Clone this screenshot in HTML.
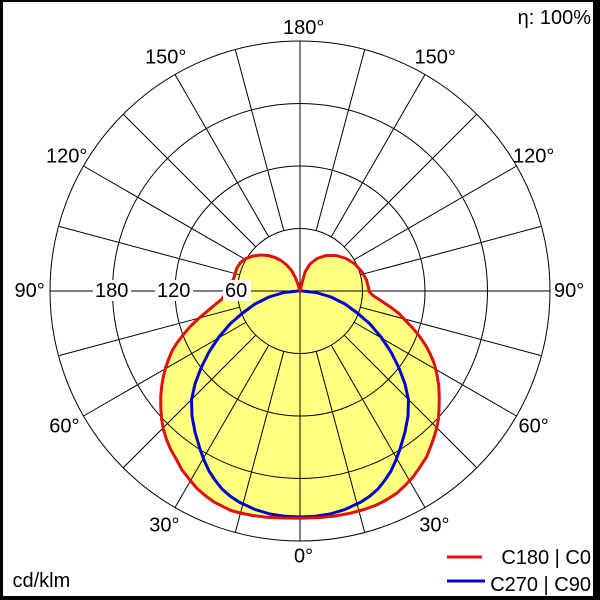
<!DOCTYPE html>
<html><head><meta charset="utf-8"><style>
html,body{margin:0;padding:0;background:#fff;}
svg{display:block;}
text{font-family:"Liberation Sans",Arial,sans-serif;font-size:20px;fill:#000;}
</style></head><body>
<svg width="600" height="600" viewBox="0 0 600 600" xmlns="http://www.w3.org/2000/svg">
<rect x="0" y="0" width="600" height="600" fill="#fff"/>

<!-- yellow fill -->
<path fill="#ffff80" stroke="none" d="M300,291 L302,283 L305,272 L310,264 L317,258.5 L326,255.5 L336,255.5 L346,258.5 L355,264 L362,272 L366.5,280 L368.3,287 L369.5,292 L373,295.5 L380,300 L390,306.7 L399,313.5 L406.7,321.7 L414,329.5 L420,337 L425.5,345 L430,353.5 L434,363 L436.7,373.3 L438.7,385 L439.3,396.7 L439,410 L438.3,420 L436,431 L432,443 L426.7,456.7 L420,467 L413.3,476.7 L405,485.5 L396.7,493.3 L387,499.5 L376.7,505 L364,509.5 L350,513.3 L335,516 L320,517.5 L300,518.3 L283,518 L266.7,517.3 L253,515.5 L240,513 L231,510.5 L223.3,506.7 L214,502 L206.7,496.7 L197,488.5 L190,480 L182,470 L176.7,460 L171,450 L166.7,440 L163.5,430 L161.7,420 L160.8,408 L160.7,396.7 L161.7,386 L163.3,376.7 L165.5,368 L168.3,360 L172,351 L176.7,343.3 L183,335 L190,326.7 L198,319 L206.7,311.7 L214,305.5 L221.7,299.3 L227,292 L231,284.5 L234.3,276.7 L236.7,268.3 L240.5,262.5 L246,258.5 L253,256 L260.5,255 L268,255.5 L275,257.5 L281,260.5 L286.7,265 L291.5,270.5 L295,276.7 L297.5,283 Z"/>

<!-- grid -->
<g transform="translate(300,291)" fill="none" stroke="#000" stroke-width="1">
<circle r="62.5"/><circle r="125"/><circle r="187.5"/><circle r="250"/>
<line x1="0" y1="-250" x2="0" y2="250"/>
<line x1="-250" y1="0" x2="250" y2="0"/>
<g>
<line x1="0" y1="62.5" x2="0" y2="250" transform="rotate(15)"/>
<line x1="0" y1="62.5" x2="0" y2="250" transform="rotate(30)"/>
<line x1="0" y1="62.5" x2="0" y2="250" transform="rotate(45)"/>
<line x1="0" y1="62.5" x2="0" y2="250" transform="rotate(60)"/>
<line x1="0" y1="62.5" x2="0" y2="250" transform="rotate(75)"/>
<line x1="0" y1="62.5" x2="0" y2="250" transform="rotate(105)"/>
<line x1="0" y1="62.5" x2="0" y2="250" transform="rotate(120)"/>
<line x1="0" y1="62.5" x2="0" y2="250" transform="rotate(135)"/>
<line x1="0" y1="62.5" x2="0" y2="250" transform="rotate(150)"/>
<line x1="0" y1="62.5" x2="0" y2="250" transform="rotate(165)"/>
<line x1="0" y1="62.5" x2="0" y2="250" transform="rotate(195)"/>
<line x1="0" y1="62.5" x2="0" y2="250" transform="rotate(210)"/>
<line x1="0" y1="62.5" x2="0" y2="250" transform="rotate(225)"/>
<line x1="0" y1="62.5" x2="0" y2="250" transform="rotate(240)"/>
<line x1="0" y1="62.5" x2="0" y2="250" transform="rotate(255)"/>
<line x1="0" y1="62.5" x2="0" y2="250" transform="rotate(285)"/>
<line x1="0" y1="62.5" x2="0" y2="250" transform="rotate(300)"/>
<line x1="0" y1="62.5" x2="0" y2="250" transform="rotate(315)"/>
<line x1="0" y1="62.5" x2="0" y2="250" transform="rotate(330)"/>
<line x1="0" y1="62.5" x2="0" y2="250" transform="rotate(345)"/>
</g>
</g>

<!-- blue curve -->
<path fill="none" stroke="#0000cc" stroke-width="3" stroke-linejoin="round" d="M300,290.7 L316,292.5 L331,297 L345,304 L358,313.5 L370,324 L381,337 L391,352 L399,368 L405,384 L408.5,400 L408,416 L405,432 L400,449 L396,460 L391,471 L385,480 L378,489 L370,496 L361,502 L345,509.5 L330,514 L315,516.3 L300,517 L285,516.3 L270,514 L255,509.5 L239,502 L230,496 L222,489 L215,480 L209,471 L204,460 L200,449 L195,432 L192,416 L191.5,400 L195,384 L201,368 L209,352 L219,337 L230,324 L242,313.5 L255,304 L269,297 L284,292.5 Z"/>

<!-- red curve -->
<path fill="none" stroke="#e01010" stroke-width="3" stroke-linejoin="round" d="M300,291 L302,283 L305,272 L310,264 L317,258.5 L326,255.5 L336,255.5 L346,258.5 L355,264 L362,272 L366.5,280 L368.3,287 L369.5,292 L373,295.5 L380,300 L390,306.7 L399,313.5 L406.7,321.7 L414,329.5 L420,337 L425.5,345 L430,353.5 L434,363 L436.7,373.3 L438.7,385 L439.3,396.7 L439,410 L438.3,420 L436,431 L432,443 L426.7,456.7 L420,467 L413.3,476.7 L405,485.5 L396.7,493.3 L387,499.5 L376.7,505 L364,509.5 L350,513.3 L335,516 L320,517.5 L300,518.3 L283,518 L266.7,517.3 L253,515.5 L240,513 L231,510.5 L223.3,506.7 L214,502 L206.7,496.7 L197,488.5 L190,480 L182,470 L176.7,460 L171,450 L166.7,440 L163.5,430 L161.7,420 L160.8,408 L160.7,396.7 L161.7,386 L163.3,376.7 L165.5,368 L168.3,360 L172,351 L176.7,343.3 L183,335 L190,326.7 L198,319 L206.7,311.7 L214,305.5 L221.7,299.3 L227,292 L231,284.5 L234.3,276.7 L236.7,268.3 L240.5,262.5 L246,258.5 L253,256 L260.5,255 L268,255.5 L275,257.5 L281,260.5 L286.7,265 L291.5,270.5 L295,276.7 L297.5,283 Z"/>

<!-- horizontal value labels with white boxes -->
<rect x="93" y="280" width="38" height="21" fill="#fff"/>
<rect x="155" y="280" width="38" height="21" fill="#fff"/>
<rect x="223" y="280" width="28" height="21" fill="#fff"/>
<text x="95" y="297">180</text>
<text x="157" y="297">120</text>
<text x="225" y="297">60</text>

<!-- angle labels -->
<text x="283" y="34">180°</text>
<text x="145" y="63.5">150°</text>
<text x="414.5" y="63.5">150°</text>
<text x="46" y="162.7">120°</text>
<text x="513" y="162.7">120°</text>
<text x="14.5" y="297">90°</text>
<text x="554" y="297">90°</text>
<text x="49.3" y="432.3">60°</text>
<text x="518.5" y="432.3">60°</text>
<text x="149.3" y="531.7">30°</text>
<text x="419.3" y="531.7">30°</text>
<text x="294" y="562.3">0°</text>

<text x="591" y="24" text-anchor="end">η: 100%</text>
<text x="12.5" y="587">cd/klm</text>

<!-- legend -->
<line x1="447" y1="557" x2="482" y2="557" stroke="#e01010" stroke-width="3"/>
<line x1="447" y1="581" x2="485" y2="581" stroke="#0000cc" stroke-width="3"/>
<text x="591" y="564" text-anchor="end">C180 | C0</text>
<text x="591" y="591" text-anchor="end">C270 | C90</text>

<!-- border -->
<rect x="0" y="0" width="600" height="2" fill="#000"/>
<rect x="0" y="0" width="3" height="600" fill="#000"/>
<rect x="593" y="0" width="7" height="600" fill="#000"/>
<rect x="0" y="596" width="600" height="4" fill="#000"/>
</svg>
</body></html>
